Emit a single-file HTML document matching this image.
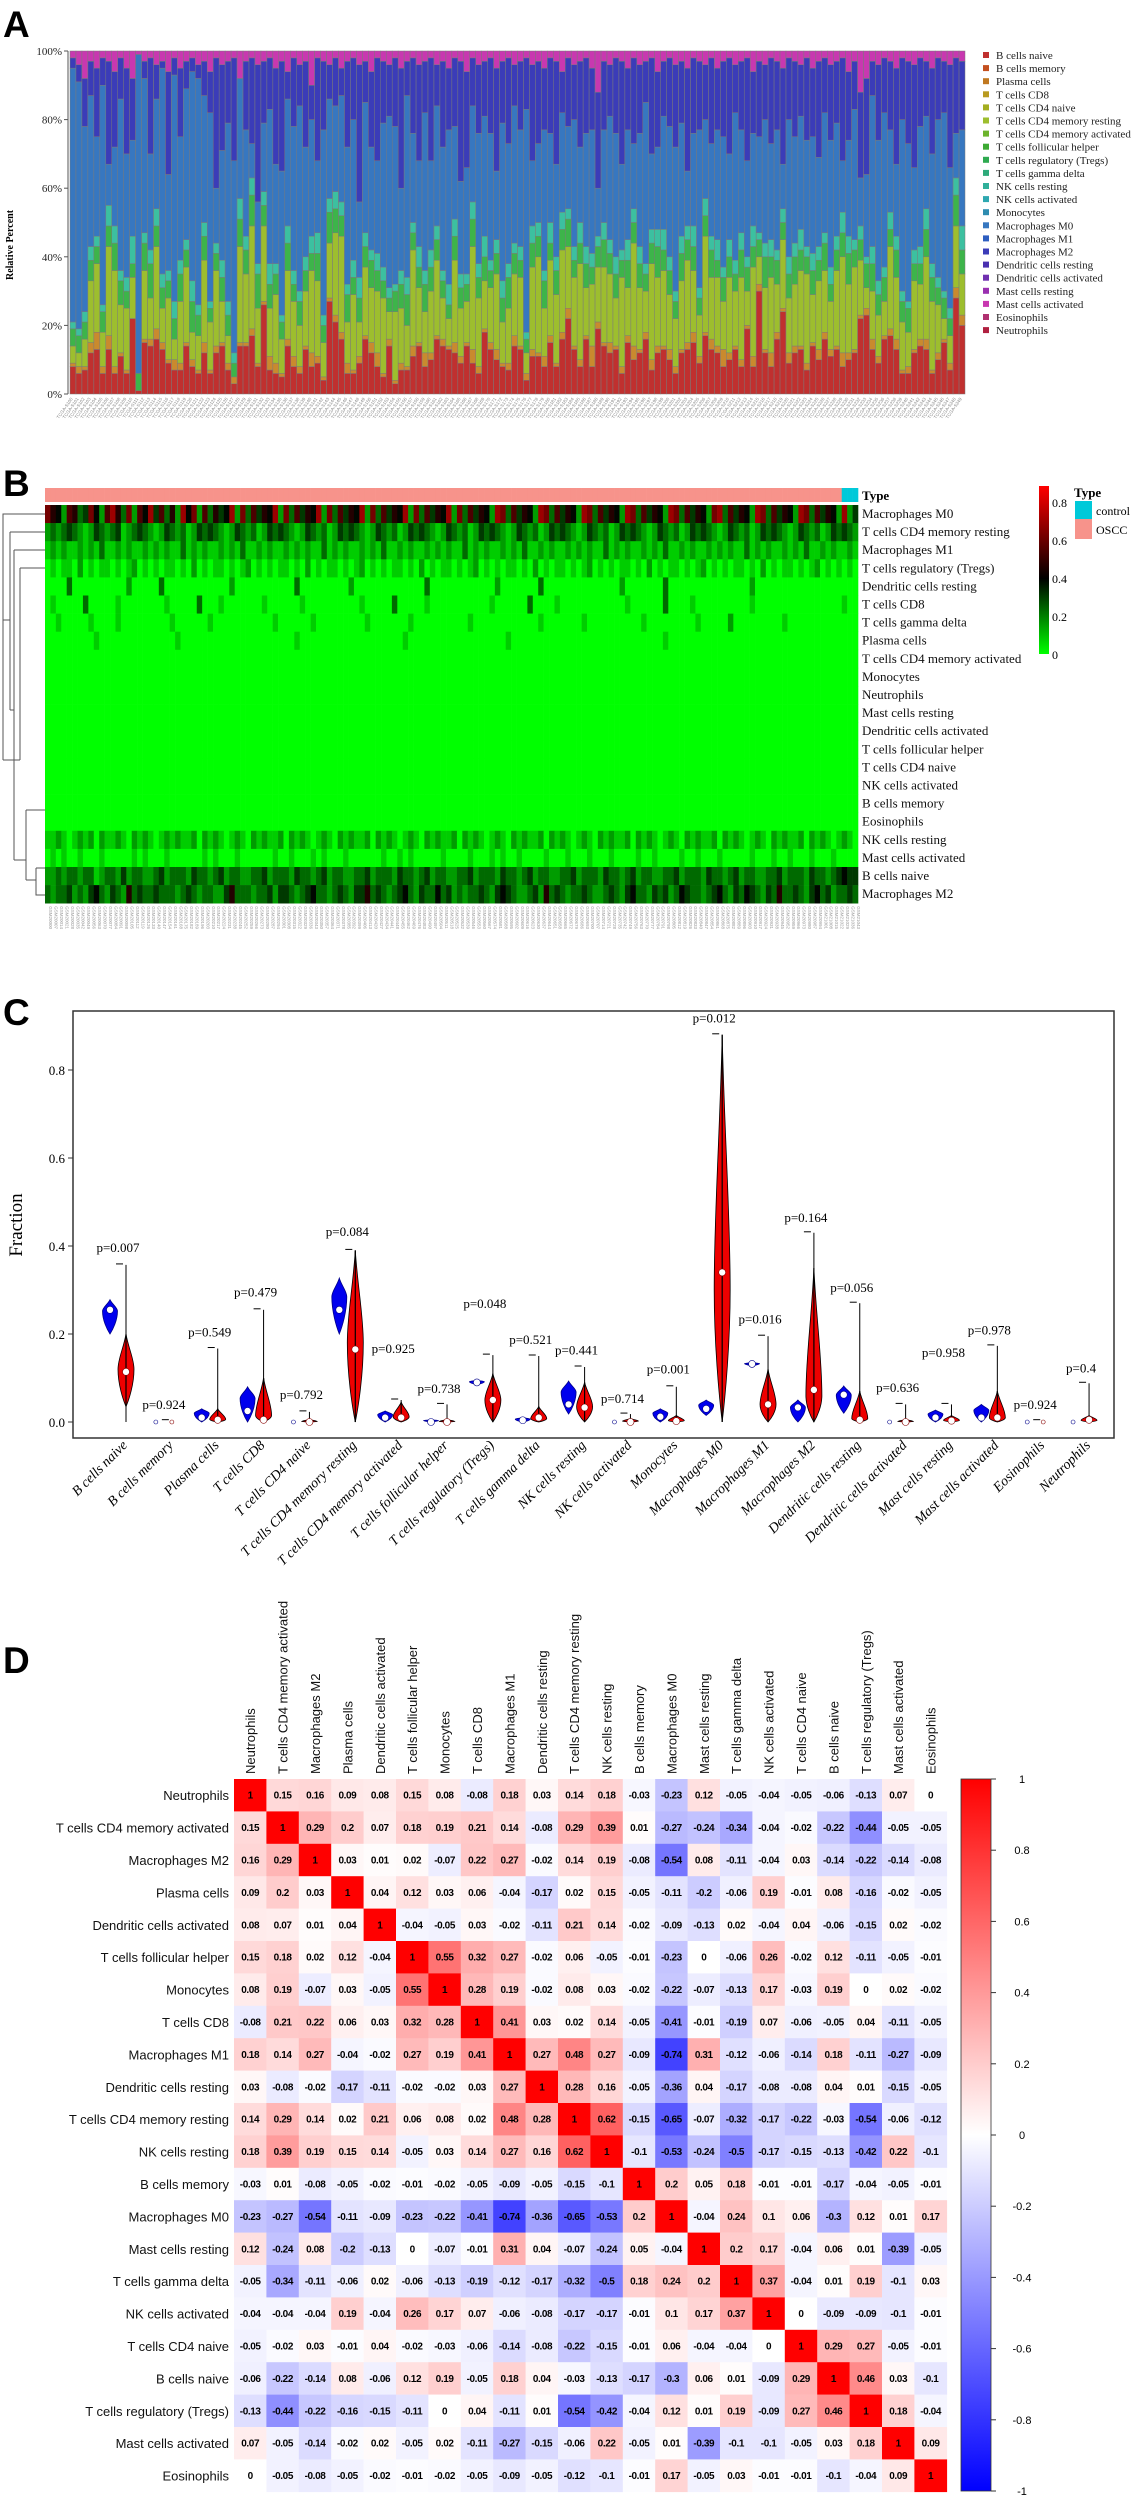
<!DOCTYPE html>
<html><head><meta charset="utf-8">
<style>
html,body{margin:0;padding:0;background:#fff;}
svg{display:block;}
.serif{font-family:"Liberation Serif",serif;}
.sans{font-family:"Liberation Sans",sans-serif;}
</style></head>
<body>
<svg id="fig" width="1138" height="2500" viewBox="0 0 1138 2500" xmlns="http://www.w3.org/2000/svg">
<defs>
<linearGradient id="hmGrad" x1="0" y1="1" x2="0" y2="0">
<stop offset="0" stop-color="#00ff00"/><stop offset="0.45" stop-color="#000000"/><stop offset="1" stop-color="#ff0000"/>
</linearGradient>
<linearGradient id="corGrad" x1="0" y1="0" x2="0" y2="1">
<stop offset="0" stop-color="#ff0000"/><stop offset="0.5" stop-color="#ffffff"/><stop offset="1" stop-color="#0000ff"/>
</linearGradient>
</defs>
<text x="3" y="37" class="sans" font-weight="bold" font-size="37">A</text>
<text x="3" y="496" class="sans" font-weight="bold" font-size="37">B</text>
<text x="3" y="1025" class="sans" font-weight="bold" font-size="37">C</text>
<text x="3" y="1673" class="sans" font-weight="bold" font-size="37">D</text>
<g id="pA"></g>
<g id="pB"></g>
<g id="pC"></g>
<g id="pD"></g>
</svg>
<script>
// ---------- Panel A data ----------
const aRed=[8,6,7,12,13,6,13,6,11,6,22,1,15,14,16,13,9,7,7,14,8,6,12,6,12,14,7,3,14,14,17,8,26,7,6,5,14,8,6,13,8,9,4,27,21,16,6,6,9,16,12,8,5,14,3,7,7,11,14,8,10,16,14,13,12,9,14,9,6,18,13,10,8,7,14,13,4,11,11,8,15,8,16,22,13,8,16,8,19,14,12,13,6,15,10,12,16,7,12,13,10,6,12,13,15,9,17,13,12,8,10,13,8,19,8,30,12,8,16,24,9,12,13,7,14,10,16,11,13,8,10,12,22,23,13,9,16,17,13,6,6,12,14,13,6,10,15,7,28,20];
const aOrange=[1,2,1,3,5,2,4,2,1,1,0,0,1,2,3,2,1,3,2,1,2,1,3,1,2,1,2,2,1,1,2,1,1,4,3,1,2,3,2,1,4,2,1,1,2,2,3,1,2,1,3,4,1,2,1,2,1,3,1,4,2,1,2,1,3,2,1,4,2,1,2,3,1,2,3,1,2,2,1,3,2,1,2,3,1,2,1,6,2,1,3,1,2,2,4,1,2,3,2,1,3,2,1,2,3,2,1,3,2,5,2,1,2,1,3,2,1,4,2,1,3,2,1,2,1,3,2,2,1,4,2,1,1,2,3,2,1,2,3,1,2,1,2,3,1,2,1,2,3,3];
const aOlive=[5,4,8,18,20,10,26,28,14,18,12,0,20,12,24,10,18,6,18,22,8,10,24,14,22,12,8,0,28,20,30,16,22,14,20,10,20,16,12,16,24,22,10,16,24,28,12,22,10,20,16,18,22,8,20,16,12,28,16,12,18,22,12,8,24,14,12,30,20,14,16,22,12,16,18,20,6,24,28,14,22,20,24,18,20,28,14,18,16,22,20,14,26,14,30,18,12,28,20,22,16,14,20,24,18,12,28,18,20,14,22,16,24,10,26,8,18,22,14,20,16,18,22,26,14,20,18,14,22,28,20,24,16,6,14,12,10,24,18,14,10,20,16,24,20,14,6,8,18,12];
const aGreen=[5,5,5,6,5,6,6,8,7,5,4,5,8,10,6,6,5,6,8,5,9,6,7,4,5,7,6,4,8,7,9,10,6,7,6,5,8,5,7,6,5,8,5,9,7,6,8,5,7,6,8,6,5,4,6,7,9,5,6,8,7,6,5,4,7,6,5,8,6,7,5,6,7,9,6,5,4,7,6,8,5,7,6,8,5,6,7,5,6,8,6,7,5,8,6,7,5,6,9,6,7,5,8,6,7,5,6,8,5,7,6,5,8,7,6,5,9,6,7,5,7,8,6,5,7,6,8,5,6,7,9,5,6,7,8,6,7,5,8,6,7,5,6,8,7,5,6,5,9,7];
const aTeal=[2,2,3,4,3,2,6,5,3,4,8,0,3,4,5,4,3,5,4,3,6,3,4,2,3,5,4,3,6,4,5,3,4,6,3,2,5,4,3,4,5,6,3,4,5,4,3,5,6,4,3,5,4,3,2,4,5,3,6,4,5,4,3,6,5,4,3,5,4,6,3,4,5,4,3,4,2,5,4,3,6,4,5,3,4,6,5,4,3,5,4,5,3,6,4,5,3,4,5,6,4,3,5,4,6,3,5,4,6,3,5,4,5,3,6,2,4,5,3,4,5,4,6,3,5,4,3,5,4,6,5,3,4,2,5,4,3,5,4,3,2,4,5,6,4,3,2,3,5,7];
const aDarkBlue=[3,5,14,10,20,8,30,22,12,25,18,0,5,28,10,2,30,5,20,8,4,4,10,12,38,25,18,30,0,20,25,40,18,15,28,32,8,20,12,25,10,30,20,10,14,8,25,18,40,12,22,30,18,15,20,35,10,22,28,15,30,12,25,18,20,35,28,14,20,16,22,30,18,25,12,20,15,28,24,18,22,30,12,20,16,25,22,18,28,20,15,22,30,18,25,20,12,28,22,16,20,24,18,30,22,20,16,25,18,22,28,14,20,30,18,22,16,25,20,28,18,22,15,24,20,28,16,22,18,30,20,14,25,28,10,22,16,20,28,18,24,30,20,16,25,18,15,30,22,20];
const aMagenta=[2,4,8,3,5,2,3,6,2,5,8,1,3,2,4,3,6,2,5,3,2,4,3,6,2,4,3,2,8,3,2,4,3,2,5,3,6,2,4,3,10,2,3,4,2,5,3,2,4,3,6,2,3,4,2,5,3,2,4,3,2,4,3,5,2,3,6,2,4,3,2,5,3,2,4,3,2,4,3,5,2,3,6,2,4,3,2,5,12,3,4,2,3,5,2,4,3,2,6,3,2,4,3,5,2,3,4,2,5,3,2,4,3,2,6,3,4,2,3,5,2,3,4,2,5,3,2,4,3,2,6,3,12,8,3,4,2,3,5,2,3,4,2,3,5,2,3,4,2,3];
const aYTicks=["0%","20%","40%","60%","80%","100%"];
const cellTypes=["B cells naive","B cells memory","Plasma cells","T cells CD8","T cells CD4 naive","T cells CD4 memory resting","T cells CD4 memory activated","T cells follicular helper","T cells regulatory (Tregs)","T cells gamma delta","NK cells resting","NK cells activated","Monocytes","Macrophages M0","Macrophages M1","Macrophages M2","Dendritic cells resting","Dendritic cells activated","Mast cells resting","Mast cells activated","Eosinophils","Neutrophils"];
const legendColors=["#c0302f","#c4501f","#c07820","#b89a20","#a4ae20","#9dbe2e","#6cb42c","#3daa34","#2eaa50","#2eaa7a","#30b09a","#2ea8b0","#2e8cb0","#3777c0","#2e5ec0","#3b3cb8","#4a30b0","#7030b0","#9a30b0","#c838b0","#b03070","#b02040"];

// ---------- Panel B data (digit = fraction * ~0.07) ----------
const hmRows=["Macrophages M0","T cells CD4 memory resting","Macrophages M1","T cells regulatory (Tregs)","Dendritic cells resting","T cells CD8","T cells gamma delta","Plasma cells","T cells CD4 memory activated","Monocytes","Neutrophils","Mast cells resting","Dendritic cells activated","T cells follicular helper","T cells CD4 naive","NK cells activated","B cells memory","Eosinophils","NK cells resting","Mast cells activated","B cells naive","Macrophages M2"];
const hmValues=[
"865276348527963827594736295827364592837465928374659283746592837465928374659283746529837465298374652983746529837465298374652893746529837465298374652924",
"232343212432341234321243231243432124323124343212432312434321243231243432124323124343212432312434321243231243432124323124343212432312434321243231243432",
"121211212131121211212121131212112121311212112121211312121121213112121121212113121211212131121211212121131212112121311212112121211312121121213112121121",
"010110201011010120101011010201011010120101011010201011010120101011010201011010120101011010201011010120101011010201011010120101011010201011010120101010",
"000030000000000200000300000000000020000000000030000000002000000000000030000000000002000000030000000000000020000000300000000000000020000000000000000000",
"010000030000010000000010000030001000000010000001000000000010000030000010000000000010000003000010000000000001000000300001000000000010000000000000000100",
"001000001000010000000001000000100000000000100000010000000001000000010000000000100000000000010000000100000000001000000000100000200000000010000000000000",
"000000000100000000000000100000000000000000000010000000000000000000100000000000000000010000000000000000000000000000100000000000000000000000000000000000",
"","","","","","","","","","",
"112101212021121021210121211202121012102121120212101210212112021210121021211202121012102121120212101210212112021210121021211202121012102121120212101210",
"010100100010000010100010000001010001000000100100010100010000001001010000010000100010100100001000100010001000010010000100100010000010001001000100010000",
"223233233123324233223423332433234233223342333243323423322334233324332342332233423332433234233223342333243323423322334233324332342332233423332433234544",
"323342324532432634334333234323322463332334244323453323432446343234532433534232334324543223426343233432234324533243423543323453243543243633432453423343"];
const hmScaleTicks=["0","0.2","0.4","0.6","0.8"];

// ---------- Panel C data ----------
const vCats=["B cells naive","B cells memory","Plasma cells","T cells CD8","T cells CD4 naive","T cells CD4 memory resting","T cells CD4 memory activated","T cells follicular helper","T cells regulatory (Tregs)","T cells gamma delta","NK cells resting","NK cells activated","Monocytes","Macrophages M0","Macrophages M1","Macrophages M2","Dendritic cells resting","Dendritic cells activated","Mast cells resting","Mast cells activated","Eosinophils","Neutrophils"];
const ctrlLo=[0.2,0,0,0,0,0.2,0,0,0.085,0,0.018,0,0,0.015,0.128,0,0.02,0,0,0,0,0];
const ctrlHi=[0.278,0.002,0.03,0.08,0.002,0.327,0.025,0.005,0.095,0.01,0.093,0.003,0.03,0.05,0.135,0.05,0.082,0.003,0.027,0.04,0.002,0.003];
const ctrlMed=[0.255,0,0.01,0.025,0,0.255,0.01,0,0.09,0.004,0.04,0,0.012,0.03,0.132,0.033,0.062,0,0.01,0.01,0,0];
const caseHi=[0.2,0.004,0.03,0.1,0.006,0.39,0.045,0.006,0.11,0.035,0.09,0.008,0.015,0.88,0.12,0.35,0.07,0.006,0.015,0.07,0.003,0.015];
const caseLo=[0.035,0,0,0,0,0,0,0,0,0,0,0,0,0,0,0,0,0,0,0,0,0];
const casePeak=[0.12,0.001,0.006,0.015,0.001,0.18,0.012,0.001,0.05,0.008,0.035,0.002,0.003,0.3,0.04,0.06,0.008,0.001,0.004,0.01,0.001,0.004];
const caseMed=[0.114,0,0.005,0.005,0,0.165,0.01,0,0.05,0.01,0.033,0,0.002,0.34,0.04,0.073,0.005,0,0.003,0.01,0,0.005];
const caseMax=[0.357,0.003,0.167,0.255,0.023,0.39,0.05,0.04,0.152,0.15,0.125,0.018,0.08,0.88,0.195,0.43,0.27,0.04,0.04,0.173,0.003,0.088];
const pText=["p=0.007","p=0.924","p=0.549","p=0.479","p=0.792","p=0.084","p=0.925","p=0.738","p=0.048","p=0.521","p=0.441","p=0.714","p=0.001","p=0.012","p=0.016","p=0.164","p=0.056","p=0.636","p=0.958","p=0.978","p=0.924","p=0.4"];
const pY=[0.38,0.023,0.188,0.278,0.046,0.416,0.15,0.059,0.252,0.171,0.147,0.036,0.103,0.901,0.217,0.448,0.289,0.061,0.141,0.192,0.023,0.106];
const cYTicks=[0,0.2,0.4,0.6,0.8];

// ---------- Panel D data ----------
const corLabels=["Neutrophils","T cells CD4 memory activated","Macrophages M2","Plasma cells","Dendritic cells activated","T cells follicular helper","Monocytes","T cells CD8","Macrophages M1","Dendritic cells resting","T cells CD4 memory resting","NK cells resting","B cells memory","Macrophages M0","Mast cells resting","T cells gamma delta","NK cells activated","T cells CD4 naive","B cells naive","T cells regulatory (Tregs)","Mast cells activated","Eosinophils"];
const corValues=[
[1,0.15,0.16,0.09,0.08,0.15,0.08,-0.08,0.18,0.03,0.14,0.18,-0.03,-0.23,0.12,-0.05,-0.04,-0.05,-0.06,-0.13,0.07,0],
[0.15,1,0.29,0.2,0.07,0.18,0.19,0.21,0.14,-0.08,0.29,0.39,0.01,-0.27,-0.24,-0.34,-0.04,-0.02,-0.22,-0.44,-0.05,-0.05],
[0.16,0.29,1,0.03,0.01,0.02,-0.07,0.22,0.27,-0.02,0.14,0.19,-0.08,-0.54,0.08,-0.11,-0.04,0.03,-0.14,-0.22,-0.14,-0.08],
[0.09,0.2,0.03,1,0.04,0.12,0.03,0.06,-0.04,-0.17,0.02,0.15,-0.05,-0.11,-0.2,-0.06,0.19,-0.01,0.08,-0.16,-0.02,-0.05],
[0.08,0.07,0.01,0.04,1,-0.04,-0.05,0.03,-0.02,-0.11,0.21,0.14,-0.02,-0.09,-0.13,0.02,-0.04,0.04,-0.06,-0.15,0.02,-0.02],
[0.15,0.18,0.02,0.12,-0.04,1,0.55,0.32,0.27,-0.02,0.06,-0.05,-0.01,-0.23,0,-0.06,0.26,-0.02,0.12,-0.11,-0.05,-0.01],
[0.08,0.19,-0.07,0.03,-0.05,0.55,1,0.28,0.19,-0.02,0.08,0.03,-0.02,-0.22,-0.07,-0.13,0.17,-0.03,0.19,0,0.02,-0.02],
[-0.08,0.21,0.22,0.06,0.03,0.32,0.28,1,0.41,0.03,0.02,0.14,-0.05,-0.41,-0.01,-0.19,0.07,-0.06,-0.05,0.04,-0.11,-0.05],
[0.18,0.14,0.27,-0.04,-0.02,0.27,0.19,0.41,1,0.27,0.48,0.27,-0.09,-0.74,0.31,-0.12,-0.06,-0.14,0.18,-0.11,-0.27,-0.09],
[0.03,-0.08,-0.02,-0.17,-0.11,-0.02,-0.02,0.03,0.27,1,0.28,0.16,-0.05,-0.36,0.04,-0.17,-0.08,-0.08,0.04,0.01,-0.15,-0.05],
[0.14,0.29,0.14,0.02,0.21,0.06,0.08,0.02,0.48,0.28,1,0.62,-0.15,-0.65,-0.07,-0.32,-0.17,-0.22,-0.03,-0.54,-0.06,-0.12],
[0.18,0.39,0.19,0.15,0.14,-0.05,0.03,0.14,0.27,0.16,0.62,1,-0.1,-0.53,-0.24,-0.5,-0.17,-0.15,-0.13,-0.42,0.22,-0.1],
[-0.03,0.01,-0.08,-0.05,-0.02,-0.01,-0.02,-0.05,-0.09,-0.05,-0.15,-0.1,1,0.2,0.05,0.18,-0.01,-0.01,-0.17,-0.04,-0.05,-0.01],
[-0.23,-0.27,-0.54,-0.11,-0.09,-0.23,-0.22,-0.41,-0.74,-0.36,-0.65,-0.53,0.2,1,-0.04,0.24,0.1,0.06,-0.3,0.12,0.01,0.17],
[0.12,-0.24,0.08,-0.2,-0.13,0,-0.07,-0.01,0.31,0.04,-0.07,-0.24,0.05,-0.04,1,0.2,0.17,-0.04,0.06,0.01,-0.39,-0.05],
[-0.05,-0.34,-0.11,-0.06,0.02,-0.06,-0.13,-0.19,-0.12,-0.17,-0.32,-0.5,0.18,0.24,0.2,1,0.37,-0.04,0.01,0.19,-0.1,0.03],
[-0.04,-0.04,-0.04,0.19,-0.04,0.26,0.17,0.07,-0.06,-0.08,-0.17,-0.17,-0.01,0.1,0.17,0.37,1,0,-0.09,-0.09,-0.1,-0.01],
[-0.05,-0.02,0.03,-0.01,0.04,-0.02,-0.03,-0.06,-0.14,-0.08,-0.22,-0.15,-0.01,0.06,-0.04,-0.04,0,1,0.29,0.27,-0.05,-0.01],
[-0.06,-0.22,-0.14,0.08,-0.06,0.12,0.19,-0.05,0.18,0.04,-0.03,-0.13,-0.17,-0.3,0.06,0.01,-0.09,0.29,1,0.46,0.03,-0.1],
[-0.13,-0.44,-0.22,-0.16,-0.15,-0.11,0,0.04,-0.11,0.01,-0.54,-0.42,-0.04,0.12,0.01,0.19,-0.09,0.27,0.46,1,0.18,-0.04],
[0.07,-0.05,-0.14,-0.02,0.02,-0.05,0.02,-0.11,-0.27,-0.15,-0.06,0.22,-0.05,0.01,-0.39,-0.1,-0.1,-0.05,0.03,0.18,1,0.09],
[0,-0.05,-0.08,-0.05,-0.02,-0.01,-0.02,-0.05,-0.09,-0.05,-0.12,-0.1,-0.01,0.17,-0.05,0.03,-0.01,-0.01,-0.1,-0.04,0.09,1]];
const corTicks=["1","0.8","0.6","0.4","0.2","0","-0.2","-0.4","-0.6","-0.8","-1"];

const NS="http://www.w3.org/2000/svg";
function mk(tag,attrs,parent){const e=document.createElementNS(NS,tag);for(const k in attrs)e.setAttribute(k,attrs[k]);parent.appendChild(e);return e;}
function txt(str,attrs,parent){const e=mk("text",attrs,parent);e.textContent=str;return e;}

// ================= Panel A =================
(function(){
const g=document.getElementById("pA");
const N=aRed.length, x0=70, x1=965, yB=394, yT=51;
const bw=(x1-x0)/N;
const xA=i=>x0+i*bw;
const yA=p=>yB-(p/100)*(yB-yT);
let ax=mk("line",{x1:x0-2,y1:yT,x2:x0-2,y2:yB,stroke:"#555","stroke-width":1},g);


aYTicks.forEach((t,k)=>{
 const y=yA(k*20);
 let tk=mk("line",{x1:x0-6,y1:y,x2:x0-2,y2:y,stroke:"#555"},g);
 
 
 let l=txt(t,{x:x0-8,y:y+4,"text-anchor":"end","font-size":11,class:"serif",fill:"#222"},g);
 
 
});
let yt=txt("Relative Percent",{x:0,y:0,transform:"translate(13,245) rotate(-90)","text-anchor":"middle","font-size":10,"font-weight":"bold",class:"serif"},g);


const cols=["#c0302f","#c98a2e","#9dbe2e","#3db44a","#3cc0a0","#3777c0","#3b3cb8","#c838b0"];
for(let i=0;i<N;i++){
 const parts=[aRed[i],aOrange[i],aOlive[i],aGreen[i],aTeal[i],0,aDarkBlue[i],aMagenta[i]];
 const other=parts.reduce((a,b)=>a+b,0);
 parts[5]=Math.max(0,100-other);
 let cum=0;
 parts.forEach((v,k)=>{
  const r=mk("rect",{x:xA(i),y:yA(cum+v),width:bw,height:Math.max(0,yA(cum)-yA(cum+v)),fill:cols[k],stroke:"#7a7a7a","stroke-width":0.5},g);
  
  
  cum+=v;
 });
 const lb=txt("TCGA-S"+(100+i),{transform:`translate(${xA(i)+bw/2},${yB+5}) rotate(-55)`,"text-anchor":"end","font-size":4.5,fill:"#888",class:"sans"},g);
 
 
}
cellTypes.forEach((c,k)=>{
 const y=56+k*13.1;
 const s=mk("rect",{x:983,y:y-4,width:6,height:6,fill:legendColors[k]},g);
 
 
 const t=txt(c,{x:996,y:y+3,"font-size":11,class:"serif",fill:"#222"},g);
 
 
});
})();

// ================= Panel B =================
(function(){
const g=document.getElementById("pB");
const N=150, x0=45, x1=858, yT=505, rh=18.1, nCtrl=3;
const cw=(x1-x0)/N;
function col(v){
 const t=Math.min(1,Math.max(0,v/0.8));
 if(t<0.45){const f=t/0.45;return `rgb(0,${Math.round(255*(1-f))},0)`;}
 const f=(t-0.45)/0.55;return `rgb(${Math.round(255*f)},0,0)`;
}
for(let i=0;i<N;i++){
 const tb=mk("rect",{x:x0+i*cw,y:488,width:cw+0.3,height:14,fill:i>=N-nCtrl?"#00c9d9":"#f7938b"},g);
 
 
}
let tl=txt("Type",{x:862,y:500,"font-size":13,"font-weight":"bold",class:"serif"},g);


hmRows.forEach((name,r)=>{
 const s=hmValues[r]||"";
 for(let i=0;i<N;i++){
  const d=parseInt(s[i]||"0",10)*0.07;
  const c=mk("rect",{x:x0+i*cw,y:yT+r*rh,width:cw+0.3,height:rh+0.3,fill:col(d)},g);
  
  
 }
 const t=txt(name,{x:862,y:yT+r*rh+13,"font-size":13,class:"serif",fill:"#111"},g);
 
 
});
for(let i=0;i<N;i++){
 const lb=txt("GSM"+(20000+i*7),{transform:`translate(${x0+i*cw+cw/2+1.5},${yT+22*rh+3}) rotate(90)`,"font-size":4.5,fill:"#999",class:"sans"},g);
 
 
}
const dg=mk("path",{d:`M45,514 H3 V620 M3,620 H10 M10,532 V710 M10,532 H45 M10,710 H14 M14,550 V860 M14,550 H45 M14,860 H26 M26,810 V880 M26,810 H45 M26,880 H36 M36,868 V895 H45 M36,868 H45 M3,620 V760 M3,760 H20 M20,568 V760 M20,568 H45`,fill:"none",stroke:"#555","stroke-width":1},g);


const cb=mk("rect",{x:1039,y:486,width:10,height:168,fill:"url(#hmGrad)"},g);


hmScaleTicks.forEach((t,k)=>{
 const y=654-k*38;
 const l=txt(t,{x:1052,y:y+5,"font-size":12,class:"serif"},g);
 
 
});
let lt=txt("Type",{x:1074,y:497,"font-size":13,"font-weight":"bold",class:"serif"},g);


let s1=mk("rect",{x:1075,y:501,width:17,height:18,fill:"#00c9d9"},g);


let s2=mk("rect",{x:1075,y:519,width:17,height:20,fill:"#f7938b"},g);


let l1=txt("control",{x:1096,y:515,"font-size":12,class:"serif"},g);


let l2=txt("OSCC",{x:1096,y:534,"font-size":12,class:"serif"},g);


})();

// ================= Panel C =================
(function(){
const g=document.getElementById("pC");
const L=73,R=1114,T=1011,B=1438,y0=1422,ppu=440;
const yC=v=>y0-v*ppu;
const xC=i=>118+i*45.86;
const fr=mk("rect",{x:L,y:T,width:R-L,height:B-T,fill:"none",stroke:"#333","stroke-width":1.5},g);


cYTicks.forEach(v=>{
 const y=yC(v);
 const tk=mk("line",{x1:L-5,y1:y,x2:L,y2:y,stroke:"#333"},g);
 
 
 const l=txt(v.toFixed(1),{x:L-8,y:y+5,"text-anchor":"end","font-size":13,class:"serif"},g);
 
 
});
const yt=txt("Fraction",{transform:"translate(22,1225) rotate(-90)","text-anchor":"middle","font-size":19,class:"serif"},g);


function violin(cx,lo,hi,peak,hw){
 const yl=yC(lo),yh=yC(hi),yp=yC(peak);
 return `M${cx},${yh} C${cx+hw*0.3},${yh+(yp-yh)*0.4} ${cx+hw},${yp-(yp-yh)*0.3} ${cx+hw},${yp} C${cx+hw},${yp+(yl-yp)*0.4} ${cx+hw*0.4},${yl-(yl-yp)*0.2} ${cx},${yl} C${cx-hw*0.4},${yl-(yl-yp)*0.2} ${cx-hw},${yp+(yl-yp)*0.4} ${cx-hw},${yp} C${cx-hw},${yp-(yp-yh)*0.3} ${cx-hw*0.3},${yh+(yp-yh)*0.4} ${cx},${yh} Z`;
}
vCats.forEach((c,i)=>{
 const cb=xC(i)-8, cr=xC(i)+8;
 if(ctrlHi[i]-ctrlLo[i]>0.004){
  const pv=mk("path",{d:violin(cb,ctrlLo[i],ctrlHi[i],(ctrlLo[i]+ctrlHi[i]*2)/3,7.5),fill:"#0000ee",stroke:"#00008a","stroke-width":0.8},g);
  
  
 }
 const md=mk("circle",{cx:cb,cy:yC(ctrlMed[i]),r:ctrlHi[i]>0.004?3.5:2,fill:"#fff",stroke:"#00008a","stroke-width":0.6},g);
 
 
 const wl=mk("line",{x1:cr,y1:yC(caseMax[i]),x2:cr,y2:yC(0),stroke:"#000","stroke-width":1},g);
 
 
 const ds=mk("line",{x1:cr-10,y1:yC(caseMax[i])-1,x2:cr-3,y2:yC(caseMax[i])-1,stroke:"#000","stroke-width":1},g);
 
 
 if(caseHi[i]-caseLo[i]>0.004){
  const pv=mk("path",{d:violin(cr,caseLo[i],caseHi[i],casePeak[i],8),fill:"#ee0000",stroke:"#000","stroke-width":0.8},g);
  
  
  const wl2=mk("line",{x1:cr,y1:yC(caseHi[i]),x2:cr,y2:yC(caseLo[i]),stroke:"#000","stroke-width":1.2},g);
  
  
 }
 const mr=mk("circle",{cx:cr,cy:yC(caseMed[i]),r:caseHi[i]>0.004?3.5:2,fill:"#fff",stroke:"#800","stroke-width":0.6},g);
 
 
 const pl=txt(pText[i],{x:xC(i),y:yC(pY[i])-3,"text-anchor":"middle","font-size":13,class:"serif"},g);
 
 
 const xl=txt(c,{transform:`translate(${cr+2},${B+8}) rotate(-45)`,"text-anchor":"end","font-size":14,"font-style":"italic",class:"serif"},g);
 
 
});
})();

// ================= Panel D =================
(function(){
const g=document.getElementById("pD");
const L=234,T=1779,cs=32.4,n=corLabels.length;
function col(v){
 const t=Math.min(1,Math.abs(v));
 const c=Math.round(255*(1-t));
 return v>=0?`rgb(255,${c},${c})`:`rgb(${c},${c},255)`;
}
corLabels.forEach((name,r)=>{
 const rl=txt(name,{x:L-5,y:T+r*cs+cs/2+5,"text-anchor":"end","font-size":13,class:"sans",fill:"#111"},g);
 
 
 const cl=txt(name,{transform:`translate(${L+r*cs+cs/2+5},${T-5}) rotate(-90)`,"font-size":13,class:"sans",fill:"#111"},g);
 
 
 corValues[r].forEach((v,c)=>{
  const cell=mk("rect",{x:L+c*cs,y:T+r*cs,width:cs+0.3,height:cs+0.3,fill:col(v)},g);
  
  
  const vt=txt(String(v),{x:L+c*cs+cs/2,y:T+r*cs+cs/2+3.5,"text-anchor":"middle","font-size":10,"font-weight":"bold",class:"sans",fill:"#000","letter-spacing":"-0.4"},g);
  
  
 });
});
const cb=mk("rect",{x:961,y:1779,width:30,height:712,fill:"url(#corGrad)",stroke:"#333","stroke-width":0.8},g);


corTicks.forEach((t,k)=>{
 const y=1779+k*71.2;
 const tk=mk("line",{x1:991,y1:y,x2:996,y2:y,stroke:"#333"},g);
 
 
 const l=txt(t,{x:1022,y:y+4,"text-anchor":"middle","font-size":11,class:"sans"},g);
 
 
});
})();
</script>
</body></html>
